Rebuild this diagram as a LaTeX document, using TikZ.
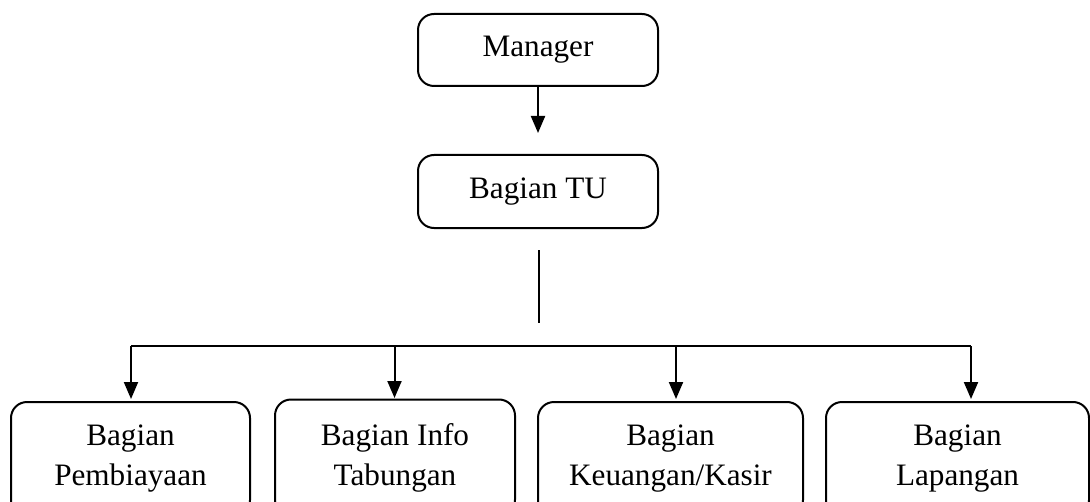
\documentclass[tikz,border=0pt]{standalone}
\usepackage{fontspec}
\setmainfont{Liberation Serif}
\usetikzlibrary{arrows.meta}
\begin{document}
\begin{tikzpicture}[x=0.5pt,y=-0.5pt,
  box/.style={draw,line width=1pt,rounded corners=8pt,align=center,
    inner sep=0pt,font=\fontsize{15.6}{20}\selectfont},
  conn/.style={line width=1pt},
  arr/.style={line width=1pt,-{Triangle[length=8.5pt,width=7pt]}}]
\useasboundingbox (0,0) rectangle (1090,502);
\clip (0,0) rectangle (1090,502);
\node[box,minimum width=120pt,minimum height=36pt] (mgr) at (538,50) {Manager};
\node[box,minimum width=120pt,minimum height=36.5pt] (tu) at (538,191.5) {Bagian TU};
\coordinate (a0) at (538,133);
\draw[arr] (mgr.south) -- (a0);
\coordinate (v1) at (539,250);
\coordinate (v2) at (539,323);
\draw[conn] (v1) -- (v2);
\node[box,minimum width=119.5pt,minimum height=57pt] (b1) at (130.5,459) {Bagian\\Pembiayaan};
\node[box,minimum width=120pt,minimum height=58pt] (b2) at (395,457.5) {Bagian Info\\Tabungan};
\node[box,minimum width=132.5pt,minimum height=57pt] (b3) at (670.5,459) {Bagian\\Keuangan/Kasir};
\node[box,minimum width=131.5pt,minimum height=57pt] (b4) at (957.5,459) {Bagian\\Lapangan};
\coordinate (h1) at (131,346);
\coordinate (h2) at (394.5,346);
\coordinate (h3) at (676,346);
\coordinate (h4) at (971,346);
\coordinate (t1) at (131,399);
\coordinate (t2) at (394.5,398);
\coordinate (t3) at (676,399);
\coordinate (t4) at (971,399);
\draw[conn] (h1) -- (h4);
\draw[arr] (h1) -- (t1);
\draw[arr] (h2) -- (t2);
\draw[arr] (h3) -- (t3);
\draw[arr] (h4) -- (t4);
\end{tikzpicture}
\end{document}
